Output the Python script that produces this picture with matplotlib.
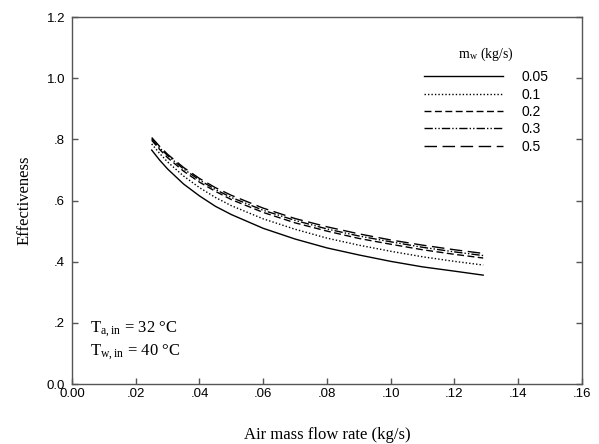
import matplotlib
matplotlib.use("Agg")
import matplotlib.pyplot as plt
from matplotlib.ticker import FuncFormatter

# air mass flow rate (kg/s)
air_flow = [0.025, 0.0275, 0.03, 0.035, 0.04, 0.045, 0.05, 0.06, 0.07,
            0.08, 0.09, 0.10, 0.11, 0.12, 0.129]

# effectiveness for each water mass flow rate
eff_005 = [0.765, 0.732, 0.703, 0.654, 0.615, 0.581, 0.554, 0.509, 0.474,
           0.445, 0.422, 0.401, 0.383, 0.369, 0.356]
eff_01 = [0.785, 0.754, 0.726, 0.680, 0.642, 0.610, 0.583, 0.540, 0.506,
          0.477, 0.454, 0.434, 0.416, 0.401, 0.389]
eff_02 = [0.797, 0.767, 0.740, 0.696, 0.660, 0.630, 0.603, 0.561, 0.527,
          0.500, 0.476, 0.457, 0.439, 0.424, 0.412]
eff_03 = [0.802, 0.772, 0.747, 0.703, 0.667, 0.636, 0.610, 0.568, 0.535,
          0.507, 0.484, 0.465, 0.447, 0.432, 0.420]
eff_05 = [0.806, 0.777, 0.751, 0.708, 0.672, 0.642, 0.617, 0.575, 0.541,
          0.514, 0.491, 0.471, 0.454, 0.439, 0.427]

labels = ["0.05", "0.1", "0.2", "0.3", "0.5"]
series = [eff_005, eff_01, eff_02, eff_03, eff_05]
styles = ["-", (0, (1, 1.5)), (0, (5, 2.5)), (0, (6, 1.5, 1, 1.5, 1, 1.5)), (0, (9, 4))]

plt.rcParams["mathtext.fontset"] = "stix"

fig = plt.figure(figsize=(5.99, 4.44), dpi=100)
ax = fig.add_axes([0.1202, 0.1351, 0.8514, 0.8266])

for y, lab, ls in zip(series, labels, styles):
    ax.plot(air_flow, y, color="black", linestyle=ls, linewidth=1.0, label=lab)

ax.set_xlim(0, 0.16)
ax.set_ylim(0, 1.2)
ax.set_xticks([0.0, 0.02, 0.04, 0.06, 0.08, 0.10, 0.12, 0.14, 0.16])
ax.set_yticks([0.0, 0.2, 0.4, 0.6, 0.8, 1.0, 1.2])


def fmt_x(v, pos):
    return "0.00" if abs(v) < 1e-9 else ("%.2f" % v).lstrip("0")


def fmt_y(v, pos):
    return "0.0" if abs(v) < 1e-9 else ("%.1f" % v if v >= 1 else ("%.1f" % v).lstrip("0"))


ax.xaxis.set_major_formatter(FuncFormatter(fmt_x))
ax.yaxis.set_major_formatter(FuncFormatter(fmt_y))

for sp in ax.spines.values():
    sp.set_color("#555555")
    sp.set_linewidth(1.0)
ax.tick_params(direction="in", length=4, width=1, color="#555555",
               labelsize=9.5, labelcolor="black", right=True, top=False)
ax.tick_params(axis="y", pad=5)
ax.tick_params(axis="x", pad=3)
for t in ax.get_xticklabels() + ax.get_yticklabels():
    t.set_fontfamily("Liberation Sans")

serif = "Liberation Serif"
ax.set_xlabel("Air mass flow rate (kg/s)", fontfamily=serif, fontsize=12, labelpad=19)
ax.set_ylabel("Effectiveness", fontfamily=serif, fontsize=12, labelpad=10)

ax.text(0.0055, 0.178, r"T$_\mathregular{a,in}$ = 32 °C", fontfamily=serif, fontsize=12,
        va="center", ha="left")
ax.text(0.0055, 0.103, r"T$_\mathregular{w,in}$ = 40 °C", fontfamily=serif, fontsize=12,
        va="center", ha="left")

leg = ax.legend(loc="upper left", bbox_to_anchor=(0.665, 0.955), frameon=False,
                handlelength=5.7, handletextpad=1.35, labelspacing=0.24,
                prop={"family": "Liberation Sans", "size": 10},
                title=r"m$_\mathregular{w}$ (kg/s)",
                title_fontproperties={"family": serif, "size": 10})
leg._legend_box.sep = 5

fig.savefig("out.png", dpi=100)
